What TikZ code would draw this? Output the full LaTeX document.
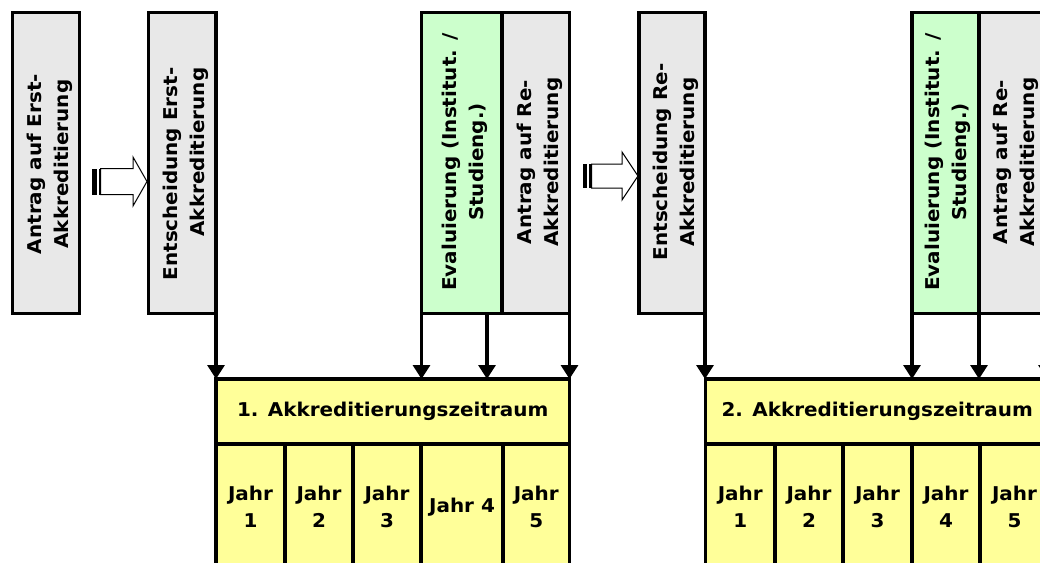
\documentclass[tikz,border=0pt]{standalone}
\usepackage{fontspec}
\setmainfont{DejaVu Sans}[FakeStretch=1.05]
\usetikzlibrary{arrows.meta,calc}
\definecolor{greyfill}{HTML}{E8E8E8}
\definecolor{greenfill}{HTML}{CCFFCC}
\definecolor{yellowfill}{HTML}{FFFF99}
\begin{document}
\begin{tikzpicture}[x=1pt,y=-1pt,
  box/.style={draw=black,line width=3.2pt,outer sep=0pt,inner sep=0pt},
  txt/.style={font=\fontsize{19}{27}\selectfont\bfseries,inner sep=0pt},
  vtext/.style={txt,rotate=90,align=center},
  cell/.style={txt,align=center},
  arr/.style={line width=3.2pt,-{Triangle[width=17pt,length=14pt]}},
  block/.style={draw=black,line width=1pt,fill=white,line join=miter}]
\useasboundingbox (0,0) rectangle (1040,562);
\clip (0,0) rectangle (1040,562);
\fill[white] (0,0) rectangle (1040,562);

% upper boxes
\node[box,fill=greyfill,minimum width=67pt,minimum height=301pt] (b1) at (46,163) {};
\node[box,fill=greyfill,minimum width=67.5pt,minimum height=301pt] (b2) at (182.25,163) {};
\node[box,fill=greenfill,minimum width=80.5pt,minimum height=301pt] (g1) at (461.75,163) {};
\node[box,fill=greyfill,minimum width=67.5pt,minimum height=301pt] (r1) at (535.75,163) {};
\node[box,fill=greyfill,minimum width=66pt,minimum height=301pt] (b3) at (672,163) {};
\node[box,fill=greenfill,minimum width=67pt,minimum height=301pt] (g2) at (945.5,163) {};
\node[box,fill=greyfill,minimum width=68pt,minimum height=301pt] (r2) at (1013,163) {};

% labels of upper boxes
\node[vtext] (t1) at (49.5,164) {Antrag auf Erst-\\Akkreditierung};
\node[vtext,align=right] (t2) at (186,174) {Entscheidung Erst-\\Akkreditierung};
\node[vtext] (t3) at (465,162) {Evaluierung (Institut. /\\Studieng.)};
\node[vtext] (t4) at (540,162) {Antrag auf Re-\\Akkreditierung};
\node[vtext] (t5) at (675.5,162) {Entscheidung Re-\\Akkreditierung};
\node[vtext] (t6) at (948,162) {Evaluierung (Institut. /\\Studieng.)};
\node[vtext] (t7) at (1016,162) {Antrag auf Re-\\Akkreditierung};

% period 1
\node[box,fill=yellowfill,minimum width=353.5pt,minimum height=65pt,txt] (z1) at (392.75,411.5) {1. Akkreditierungszeitraum};
\node[box,fill=yellowfill,minimum width=69pt,minimum height=126pt,cell] (c11) at (250.5,507) {Jahr\\1};
\node[box,fill=yellowfill,minimum width=68pt,minimum height=126pt,cell] (c12) at (319,507) {Jahr\\2};
\node[box,fill=yellowfill,minimum width=68pt,minimum height=126pt,cell] (c13) at (387,507) {Jahr\\3};
\node[box,fill=yellowfill,minimum width=82pt,minimum height=126pt,cell] (c14) at (462,507) {Jahr 4};
\node[box,fill=yellowfill,minimum width=66.5pt,minimum height=126pt,cell] (c15) at (536.25,507) {Jahr\\5};

% period 2
\node[box,fill=yellowfill,minimum width=343.5pt,minimum height=65pt,txt] (z2) at (877.25,411.5) {2. Akkreditierungszeitraum};
\node[box,fill=yellowfill,minimum width=69.5pt,minimum height=126pt,cell] (c21) at (740.25,507) {Jahr\\1};
\node[box,fill=yellowfill,minimum width=68pt,minimum height=126pt,cell] (c22) at (809,507) {Jahr\\2};
\node[box,fill=yellowfill,minimum width=69pt,minimum height=126pt,cell] (c23) at (877.5,507) {Jahr\\3};
\node[box,fill=yellowfill,minimum width=68pt,minimum height=126pt,cell] (c24) at (946,507) {Jahr\\4};
\node[box,fill=yellowfill,minimum width=69pt,minimum height=126pt,cell] (c25) at (1014.5,507) {Jahr\\5};

% connectors
\draw[arr] (b2.south east) -- (b2.south east |- z1.north);
\draw[arr] (g1.south west) -- (g1.south west |- z1.north);
\coordinate (g1m) at ($(g1.south west)+(65.5,0)$);
\draw[arr] (g1m) -- (g1m |- z1.north);
\draw[arr] (r1.south east) -- (r1.south east |- z1.north);

\draw[arr] (b3.south east) -- (b3.south east |- z2.north);
\draw[arr] (g2.south west) -- (g2.south west |- z2.north);
\draw[arr] (g2.south east) -- (g2.south east |- z2.north);
\draw[arr] (r2.south east) -- (r2.south east |- z2.north);

% striped block arrows
\fill (92,168.5) rectangle (96.7,194.5);
\fill (98.7,168.5) rectangle (100.5,194.5);
\draw[block] (100.5,168.5) -- (133,168.5) -- (133,157) -- (147,181.5) -- (133,206) -- (133,194.5) -- (100.5,194.5) -- cycle;

\fill (583,164) rectangle (587.3,188);
\fill (589.3,164) rectangle (591.5,188);
\draw[block] (591.5,164) -- (622,164) -- (622,152) -- (638,176) -- (622,200) -- (622,188) -- (591.5,188) -- cycle;
\end{tikzpicture}
\end{document}
